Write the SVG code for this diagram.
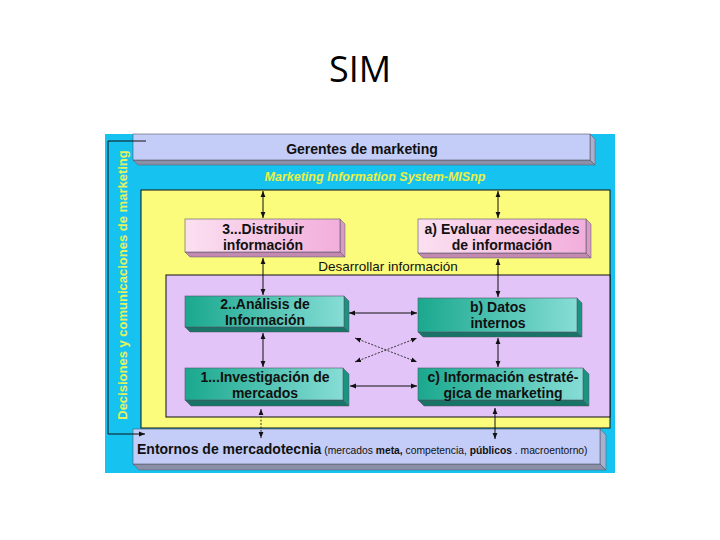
<svg xmlns="http://www.w3.org/2000/svg" width="720" height="540" viewBox="0 0 720 540">
<style>
text{font-family:"Liberation Sans",Arial,sans-serif}
.t{font-size:14px;font-weight:bold;fill:#111;text-anchor:middle}
.ln{stroke:#111;stroke-width:1;fill:none}
.dl{stroke:#222;stroke-width:0.9;fill:none;stroke-dasharray:2 1.5}
.face{stroke:#556;stroke-width:0.6}
.side{stroke:#556;stroke-width:0.5}
</style>
<defs>
<marker id="ah" viewBox="0 0 10 10" refX="10" refY="5" markerWidth="6" markerHeight="6" markerUnits="userSpaceOnUse" orient="auto-start-reverse"><path d="M0,1 L10,5 L0,9 z" fill="#111"/></marker>
<linearGradient id="pink" x1="0" y1="0" x2="1" y2="0"><stop offset="0" stop-color="#fbe0f0"/><stop offset="1" stop-color="#f2aedb"/></linearGradient>
<linearGradient id="teal" x1="0" y1="0" x2="1" y2="0"><stop offset="0" stop-color="#1aa88e"/><stop offset="1" stop-color="#86ddd6"/></linearGradient>
</defs>
<rect width="720" height="540" fill="#fff"/>
<text x="360" y="82" font-size="36" text-anchor="middle" fill="#000" style="font-family:'Open Sans','Liberation Sans',sans-serif">SIM</text>

<!-- frame -->
<rect x="105" y="134" width="510" height="339" fill="#16c3f0"/>
<rect x="141" y="190" width="469" height="238" fill="#fbfb7c" stroke="#111" stroke-width="1"/>
<rect x="166" y="275" width="444" height="142" fill="#e2c4f8" stroke="#111" stroke-width="1"/>

<g id="gerentes">
<polygon points="590,134 595,139 595,165 590,160" fill="#a8b0d0" class="side"/>
<polygon points="133,160 590,160 595,165 138,165" fill="#8a90a8" class="side"/>
<rect x="133" y="134" width="457" height="26" fill="#c4ccf8" class="face"/>
<text x="362" y="154" font-size="14" font-weight="bold" text-anchor="middle" fill="#111">Gerentes de marketing</text>
</g>
<text x="375" y="181" font-size="12.5" font-weight="bold" font-style="italic" text-anchor="middle" fill="#ecf040">Marketing Information System-MISnp</text>
<text transform="translate(127,285) rotate(-90)" font-size="13" font-weight="bold" text-anchor="middle" fill="#e4f25c">Decisiones y comunicaciones de marketing</text>
<text x="388" y="271" font-size="13.5" text-anchor="middle" fill="#111">Desarrollar información</text>

<g id="entornos">
<polygon points="600,429 606,435 606,470 600,464" fill="#a8b0d0" class="side"/>
<polygon points="133,464 600,464 606,470 139,470" fill="#8a90a8" class="side"/>
<rect x="133" y="429" width="467" height="35" fill="#c4ccf8" class="face"/>
<text x="137" y="454" fill="#111"><tspan font-size="14" font-weight="bold">Entornos de mercadotecnia</tspan><tspan font-size="10.3"> (mercados </tspan><tspan font-size="10.3" font-weight="bold">meta,</tspan><tspan font-size="10.3"> competencia, </tspan><tspan font-size="10.3" font-weight="bold">públicos</tspan><tspan font-size="10.3"> . macroentorno)</tspan></text>
</g>

<g id="distribuir">
<polygon points="340,219 345,224 345,257 340,252" fill="#d89cc4" class="side"/>
<polygon points="185,252 340,252 345,257 190,257" fill="#c489b0" class="side"/>
<rect x="185" y="219" width="155" height="33" fill="url(#pink)" class="face"/>
<text class="t" x="263" y="234">3...Distribuir</text>
<text class="t" x="263" y="250">información</text>
</g>

<g id="evaluar">
<polygon points="586,219 591,224 591,258 586,253" fill="#d89cc4" class="side"/>
<polygon points="418,253 586,253 591,258 423,258" fill="#c489b0" class="side"/>
<rect x="418" y="219" width="168" height="34" fill="url(#pink)" class="face"/>
<text class="t" x="502" y="234">a) Evaluar necesidades</text>
<text class="t" x="502" y="250">de información</text>
</g>

<g id="analisis">
<polygon points="344,296 349,301 349,332 344,327" fill="#1a9480" class="side"/>
<polygon points="185,327 344,327 349,332 190,332" fill="#177466" class="side"/>
<rect x="185" y="296" width="159" height="31" fill="url(#teal)" class="face"/>
<text class="t" x="265" y="309">2..Análisis de</text>
<text class="t" x="265" y="325">Información</text>
</g>

<g id="datos">
<polygon points="577,298 582,303 582,337 577,332" fill="#1a9480" class="side"/>
<polygon points="418,332 577,332 582,337 423,337" fill="#177466" class="side"/>
<rect x="418" y="298" width="159" height="34" fill="url(#teal)" class="face"/>
<text class="t" x="498" y="312">b) Datos</text>
<text class="t" x="498" y="328">internos</text>
</g>

<g id="investigacion">
<polygon points="343,368 349,374 349,406 343,400" fill="#1a9480" class="side"/>
<polygon points="185,400 343,400 349,406 191,406" fill="#177466" class="side"/>
<rect x="185" y="368" width="158" height="32" fill="url(#teal)" class="face"/>
<text class="t" x="265" y="382">1...Investigación de</text>
<text class="t" x="265" y="398">mercados</text>
</g>

<g id="estrategica">
<polygon points="583,368 589,374 589,406 583,400" fill="#1a9480" class="side"/>
<polygon points="418,400 583,400 589,406 424,406" fill="#177466" class="side"/>
<rect x="418" y="368" width="165" height="32" fill="url(#teal)" class="face"/>
<text class="t" x="503" y="382">c) Información estraté-</text>
<text class="t" x="503" y="398">gica de marketing</text>
</g>

<g id="connectors">
<line class="ln" x1="263" y1="191" x2="263" y2="218" stroke-width="0.8" marker-start="url(#ah)" marker-end="url(#ah)"/>
<line class="ln" x1="498" y1="191" x2="498" y2="218" marker-start="url(#ah)" marker-end="url(#ah)"/>
<line class="ln" x1="263" y1="258" x2="263" y2="295" marker-start="url(#ah)" marker-end="url(#ah)"/>
<line class="ln" x1="498" y1="259" x2="498" y2="297" marker-start="url(#ah)" marker-end="url(#ah)"/>
<line class="ln" x1="263" y1="333" x2="263" y2="367" marker-start="url(#ah)" marker-end="url(#ah)"/>
<line class="ln" x1="498" y1="338" x2="498" y2="367" marker-start="url(#ah)" marker-end="url(#ah)"/>
<line class="ln" x1="349" y1="313" x2="417" y2="313" marker-start="url(#ah)" marker-end="url(#ah)"/>
<line class="ln" x1="350" y1="386" x2="417" y2="386" marker-start="url(#ah)" marker-end="url(#ah)"/>
<line class="dl" x1="355" y1="338" x2="417" y2="362" marker-start="url(#ah)" marker-end="url(#ah)"/>
<line class="dl" x1="355" y1="362" x2="417" y2="338" marker-start="url(#ah)" marker-end="url(#ah)"/>
<line class="dl" x1="261" y1="409" x2="261" y2="438" marker-start="url(#ah)" marker-end="url(#ah)"/>
<line class="ln" x1="495" y1="408" x2="495" y2="439" marker-start="url(#ah)" marker-end="url(#ah)"/>
<polyline class="ln" points="146,141 108,141 108,434 145,434" marker-end="url(#ah)"/>
</g>
</svg>
